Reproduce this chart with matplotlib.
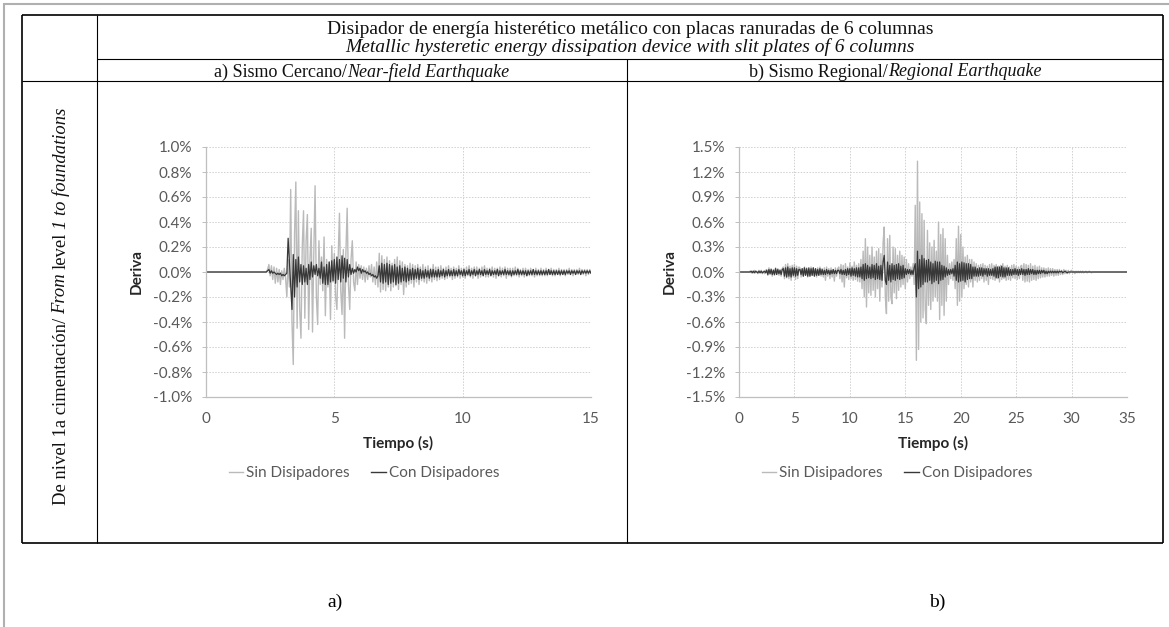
import numpy as np
import matplotlib
matplotlib.use('Agg')
import matplotlib.pyplot as plt
from matplotlib.lines import Line2D
from matplotlib.ticker import MultipleLocator, FuncFormatter

# drift values in hundredths of a percent (66 -> 0.66 %)
# a) near-field record, one value every 0.05 s from 0 to 15 s
dt_near = 0.05
sin_near = [
    0, 0, 0, 0, 0, 0, 0, 0, 0, 0,
    0, 0, 0, 0, 0, 0, 0, 0, 0, 0,
    0, 0, 0, 0, 0, 0, 0, 0, 0, 0,
    0, 0, 0, 0, 0, 0, 0, 0, 0, 0,
    0, 0, 0, 0, 0, 0, 0, 0, 2, 6,
    -3, 5, -6, 4, -9, 3, -8, 2, -10, 1,
    -6, 3, -5, -20, 10, -12, 66, -40, -74, 30,
    72, -45, 49, -30, -53, 20, 49, -37, 25, 46,
    -46, 10, 35, -48, 15, 69, -20, -42, 25, -10,
    12, -15, 28, -35, 10, -12, 8, -38, 21, -8,
    15, -20, -30, 12, 47, -15, -34, 18, -53, 15,
    51, -10, -30, 10, 25, -8, -15, 8, -10, 6,
    -5, 5, -6, 4, -8, 3, -6, 5, -4, 6,
    -8, 4, -10, 8, -12, 15, -16, 13, -14, 10,
    -15, 12, -12, 9, -15, 7, -12, 10, -11, 12,
    -14, 9, -10, 8, -18, 6, -12, 5, -10, 7,
    -9, 6, -12, 5, -8, 6, -10, 4, -7, 6,
    -8, 4, -9, 5, -7, 3, -8, 6, -6, 4,
    -7, 4, -6, 5, -5, 3, -6, 4, -5, 5,
    -4, 3, -6, 4, -5, 3, -4, 5, -5, 3,
    -4, 3, -5, 4, -3, 5, -4, 3, -5, 4,
    -3, 4, -5, 3, -4, 4, -3, 5, -4, 3,
    -4, 3, -3, 4, -4, 3, -5, 3, -3, 4,
    -4, 3, -3, 4, -5, 3, -3, 3, -4, 3,
    -3, 4, -3, 3, -4, 2, -3, 3, -4, 3,
    -3, 2, -3, 3, -3, 2, -4, 3, -3, 2,
    -3, 3, -3, 2, -3, 3, -3, 2, -2, 3,
    -3, 2, -3, 2, -2, 3, -3, 2, -2, 2,
    -3, 2, -2, 3, -2, 2, -3, 2, -2, 2,
    -2, 3, -2, 2, -2, 2, -3, 2, -2, 2,
    -1,
]
con_near = [
    0, 0, 0, 0, 0, 0, 0, 0, 0, 0,
    0, 0, 0, 0, 0, 0, 0, 0, 0, 0,
    0, 0, 0, 0, 0, 0, 0, 0, 0, 0,
    0, 0, 0, 0, 0, 0, 0, 0, 0, 0,
    0, 0, 0, 0, 0, 0, 0, 0, 1, 2,
    -1, 1, -1, 0, -1, -2, -1, -2, -1, -3,
    -2, -3, -2, -1, 27, 8, -12, -30, 14, -20,
    10, -12, 12, -8, 6, -10, 5, -8, 3, -10,
    6, -6, 8, -4, 5, -2, 6, -3, 3, -5,
    8, -9, 4, -10, 6, -10, 8, -8, 9, -7,
    10, -9, 12, -6, 10, -8, 13, -5, 11, -8,
    10, -4, 6, -2, 3, -1, 2, 0, 4, 1,
    3, -1, 2, 0, 1, -1, 0, -2, -1, -3,
    -2, -4, -3, -5, -3, 5, -8, 7, -9, 6,
    -8, 7, -10, 6, -9, 5, -8, 6, -10, 4,
    -9, 5, -8, 3, -7, 4, -8, 3, -7, 2,
    -6, 3, -6, 2, -5, 3, -6, 2, -5, 1,
    -5, 2, -4, 1, -5, 2, -4, 2, -4, 1,
    -4, 2, -4, 1, -3, 2, -4, 1, -3, 2,
    -3, 1, -3, 2, -3, 1, -3, 2, -2, 1,
    -3, 2, -3, 1, -2, 2, -3, 1, -2, 2,
    -3, 1, -2, 2, -2, 1, -3, 2, -2, 1,
    -2, 2, -3, 1, -2, 1, -2, 2, -3, 1,
    -2, 1, -2, 2, -2, 1, -2, 1, -3, 1,
    -2, 1, -2, 2, -2, 1, -2, 1, -2, 1,
    -3, 1, -2, 1, -2, 2, -2, 1, -2, 1,
    -2, 1, -2, 1, -2, 1, -2, 2, -2, 1,
    -2, 1, -2, 1, -2, 1, -2, 1, -2, 1,
    -2, 1, -1, 1, -2, 1, -1, 1, -2, 1,
    -1, 1, -2, 1, -1, 1, -1, 1, -1, 1,
    -1,
]

# b) regional record, one value every 0.1 s from 0 to 35 s
dt_reg = 0.1
sin_reg = [
    0, 0, 0, 0, 0, 0, 0, 0, 0, 0,
    1, -1, 1, -1, 2, -1, 1, -2, 2, -1,
    2, -2, 1, -2, 2, 3, -4, 5, -3, 4,
    -5, 3, -4, 5, -3, 4, -4, 3, -5, 4,
    6, -8, 9, -7, 10, -8, 7, -10, 8, -6,
    9, -9, 7, -8, 6, 5, -6, 4, -5, 6,
    -4, 5, -6, 3, -5, 6, -4, 5, -5, 4,
    -6, 5, -4, 6, -5, 4, -6, 5, -10, 6,
    -5, 4, -8, 5, -6, 3, -11, 5, -5, 4,
    6, -8, 9, -12, 8, -18, 10, -7, 6, -9,
    11, -8, 7, -10, 12, -9, 8, -11, 10, -12,
    15, -20, 25, -30, 40, -42, 30, -25, 20, -28,
    30, -22, 18, -30, 25, -20, 28, -35, 22, -18,
    35, 54, -30, -50, 40, -35, 44, -30, -38, 30,
    -25, 28, -32, 20, -22, 25, -18, 20, -15, 18,
    -20, 15, -12, 10, -8, 6, -5, 10, -15, 80,
    -106, 133, -93, 84, -60, 70, -55, 62, -45, -62,
    50, -40, 35, -45, 30, -35, 38, -30, 25, -35,
    60, -57, 45, -40, 52, -52, 40, -35, 20, -15,
    10, -8, 12, -10, 15, -20, 40, -40, 55, -35,
    45, -30, 30, -20, 18, -15, 20, -18, 15, -12,
    15, -18, 12, -10, 10, -12, 8, -10, 9, -8,
    10, -12, 8, -10, 7, -15, 9, -8, 10, -9,
    8, -10, 9, -8, 7, -12, 8, -9, 10, -8,
    7, -10, 8, -9, 6, -10, 8, -7, 9, -8,
    7, -9, 6, -8, 7, 8, -10, 10, -12, 9,
    -11, 8, -12, 10, -10, 7, -9, 8, -10, 6,
    -8, 7, -7, 5, -6, 5, -6, 4, -5, 5,
    -5, 4, -4, 4, -5, 3, -4, 3, -4, 3,
    -3, 2, -3, 3, -2, 2, -2, 2, -2, 1,
    2, -1, 1, -2, 1, -1, 1, -1, 1, -1,
    1, -1, 0, 1, -1, 0, 1, 0, -1, 0,
    0, 0, 0, 0, 0, 0, 0, 0, 0, 0,
    0, 0, 0, 0, 0, 0, 0, 0, 0, 0,
    0, 0, 0, 0, 0, 0, 0, 0, 0, 0,
    0,
]
con_reg = [
    0, 0, 0, 0, 0, 0, 0, 0, 0, 0,
    0, 1, -1, 1, -1, 1, 0, -1, 1, -1,
    1, -1, 0, 1, -1, 2, -3, 3, -2, 3,
    -3, 2, -3, 4, -3, 3, -2, 2, -3, 3,
    4, -5, 5, -6, 6, -5, 4, -6, 5, -4,
    5, -5, 4, -4, 3, 3, -3, 4, -5, 5,
    -4, 4, -5, 5, -5, 4, -4, 5, -5, 4,
    -4, 3, -4, 4, -3, 3, -3, 2, -3, 3,
    -2, 2, -3, 2, -2, 3, -2, 2, -2, 2,
    2, -2, 3, -3, 2, -3, 3, -4, 4, -3,
    4, -5, 5, -4, 4, -5, 5, -6, 5, -6,
    6, -8, 9, -10, 10, -8, 8, -7, 6, -8,
    9, -7, 8, -9, 10, -8, 7, -9, 8, -10,
    12, 20, -10, -15, 12, -10, 8, -12, 10, -9,
    8, -10, 9, -8, 10, -9, 7, -8, 8, -7,
    4, -3, 3, -2, 3, -3, 2, -3, 5, 10,
    -30, 25, -20, 15, -18, 20, -15, 16, -12, 14,
    -12, 15, -10, 12, -14, 10, -12, 13, -10, 12,
    -14, 12, -10, 8, -9, 7, -6, 5, -4, 3,
    -3, 3, -2, 4, -5, 8, -10, 12, -12, 10,
    -11, 12, -10, 11, -12, 10, -9, 10, -8, 9,
    -8, 6, -5, 6, -5, 4, -5, 5, -4, 5,
    -5, 4, -3, 4, -5, 4, -4, 3, -4, 4,
    -5, 6, -7, 6, -7, 6, -5, 7, -6, 5,
    -6, 5, -4, 5, -4, 3, -4, 3, -3, 4,
    -3, 3, -4, 3, -3, 4, -3, 3, -4, 3,
    -3, 4, -3, 3, -2, 3, -3, 2, -3, 2,
    -2, 2, -2, 2, -1, 2, -2, 1, -2, 1,
    -1, 1, -1, 1, -1, 1, -1, 1, -1, 1,
    0, 1, -1, 0, 1, 0, -1, 0, 0, 0,
    0, 0, 0, 0, 0, 0, 0, 0, 0, 0,
    0, 0, 0, 0, 0, 0, 0, 0, 0, 0,
    0, 0, 0, 0, 0, 0, 0, 0, 0, 0,
    0, 0, 0, 0, 0, 0, 0, 0, 0, 0,
    0, 0, 0, 0, 0, 0, 0, 0, 0, 0,
    0,
]

series_labels = ['Sin Disipadores', 'Con Disipadores']
title_es = 'Disipador de energía histerético metálico con placas ranuradas de 6 columnas'
title_en = 'Metallic hysteretic energy dissipation device with slit plates of 6 columns'

SIN_COLOR = '#bababa'
CON_COLOR = '#383838'
TXT_GRAY = '#595959'
SERIF = 'Liberation Serif'
plt.rcParams['font.family'] = ['Lato', 'DejaVu Sans']

W, H = 1169, 627
fig = plt.figure(figsize=(W / 100, H / 100), dpi=100)

# background axes in pixel units, used for the table frame and its texts
bg = fig.add_axes([0, 0, 1, 1], zorder=0)
bg.set_xlim(0, W)
bg.set_ylim(H, 0)
bg.axis('off')


def hline(y, x0, x1, lw=0.8, color='black'):
    bg.plot([x0, x1], [y, y], color=color, lw=lw, solid_capstyle='butt')


def vline(x, y0, y1, lw=0.8, color='black'):
    bg.plot([x, x], [y0, y1], color=color, lw=lw, solid_capstyle='butt')


# page border
hline(4, 3, W, lw=1.5, color='#b0b0b0')
vline(4, 3, H, lw=1.5, color='#b0b0b0')

# table
L, R, T, B = 22, 1163, 15, 543
C1, CM = 97, 627
hline(T, L, R, lw=1.2)
hline(B, L, R, lw=1.2)
vline(L, T, B, lw=1.2)
vline(R, T, B, lw=1.2)
vline(C1, T, B)
hline(59, C1, R)
hline(81, L, R)
vline(CM, 59, B)


def mixed_text(x, y, parts, size=12.5, rotation=0):
    # parts: (text, italic, gap before in px), centred on (x, y)
    r = fig.canvas.get_renderer()
    items = []
    for s, it, gap in parts:
        if rotation == 0:
            t = bg.text(0, 0, s, fontsize=size, family=SERIF,
                        style='italic' if it else 'normal',
                        ha='left', va='center_baseline', color='#111111')
            ln = t.get_window_extent(r).width
        else:
            t = bg.text(0, 0, s, fontsize=size, family=SERIF,
                        style='italic' if it else 'normal', rotation=90,
                        ha='center', va='bottom', color='#111111')
            ln = t.get_window_extent(r).height
        items.append((t, ln, gap))
    total = sum(ln + g for _, ln, g in items)
    pos = -total / 2
    for t, ln, g in items:
        pos += g
        if rotation == 0:
            t.set_position((x + pos, y))
        else:
            t.set_position((x, y - pos))
        pos += ln


mixed_text((C1 + R) / 2, 27, [(title_es, False, 0)], size=14)
mixed_text((C1 + R) / 2, 45, [(title_en, True, 0)], size=14)
mixed_text((C1 + CM) / 2, 70, [('a) Sismo Cercano/', False, 0),
                               ('Near-field Earthquake', True, 0)], size=13)
mixed_text((CM + R) / 2, 70, [('b) Sismo Regional/', False, 0),
                              ('Regional Earthquake', True, 0)], size=13)
mixed_text(61, 306, [('De nivel 1a cimentación/', False, 0), ('From', True, 4),
                     ('level', False, 4), ('1 to foundations', True, 4)],
           size=13.4, rotation=90)
bg.text(335, 602, 'a)', fontsize=14, family=SERIF, ha='center', va='center')
bg.text(937, 602, 'b)', fontsize=14, family=SERIF, ha='center', va='center')


def drift_panel(left, right, dt, sin, con, xmax, ylim, ystep, legend_x):
    top, bottom = 147, 397
    ax = fig.add_axes([left / W, 1 - bottom / H, (right - left) / W, (bottom - top) / H])
    t_sin = np.arange(len(sin)) * dt
    t_con = np.arange(len(con)) * dt
    ax.plot(t_sin, np.array(sin) / 100, color=SIN_COLOR, lw=1.0)
    ax.plot(t_con, np.array(con) / 100, color=CON_COLOR, lw=0.9)
    ax.set_xlim(0, xmax)
    ax.set_ylim(-ylim, ylim)
    ax.xaxis.set_major_locator(MultipleLocator(5))
    ax.yaxis.set_major_locator(MultipleLocator(ystep))
    ax.yaxis.set_major_formatter(FuncFormatter(lambda v, p: f'{round(v, 1) + 0.0:.1f}%'))
    ax.grid(True, color='#d0d0d0', lw=0.7, linestyle=(0, (1.5, 1.5)))
    ax.set_axisbelow(True)
    for s in ['top', 'right']:
        ax.spines[s].set_visible(False)
    for s in ['left', 'bottom']:
        ax.spines[s].set_color('#bfbfbf')
        ax.spines[s].set_linewidth(0.9)
    ax.tick_params(axis='y', length=3, width=0.7, color='#bfbfbf', pad=7,
                   labelsize=11, labelcolor=TXT_GRAY)
    ax.tick_params(axis='x', length=0, pad=11, labelsize=11, labelcolor=TXT_GRAY)
    ax.set_ylabel('Deriva', fontsize=11, fontweight='bold', color='#262626')
    ax.yaxis.set_label_coords(-62 / (right - left), 0.5)
    ax.set_xlabel('Tiempo (s)', fontsize=11, fontweight='bold', color='#262626')
    ax.xaxis.label.set_va('center')
    ax.xaxis.set_label_coords(0.5, -46 / (bottom - top))
    handles = [Line2D([], [], color=SIN_COLOR, lw=1.0),
               Line2D([], [], color=CON_COLOR, lw=1.0)]
    fig.legend(handles, series_labels, loc='center', ncol=2, frameon=False,
               bbox_to_anchor=(legend_x / W, 1 - 473 / H), fontsize=11,
               labelcolor=TXT_GRAY, handlelength=0.95, handletextpad=0.2,
               columnspacing=1.4)
    return ax


drift_panel(206, 591, dt_near, sin_near, con_near, 15, 1.0, 0.2, 364)
drift_panel(739, 1127, dt_reg, sin_reg, con_reg, 35, 1.5, 0.3, 897)

fig.savefig('out.png', dpi=100)
